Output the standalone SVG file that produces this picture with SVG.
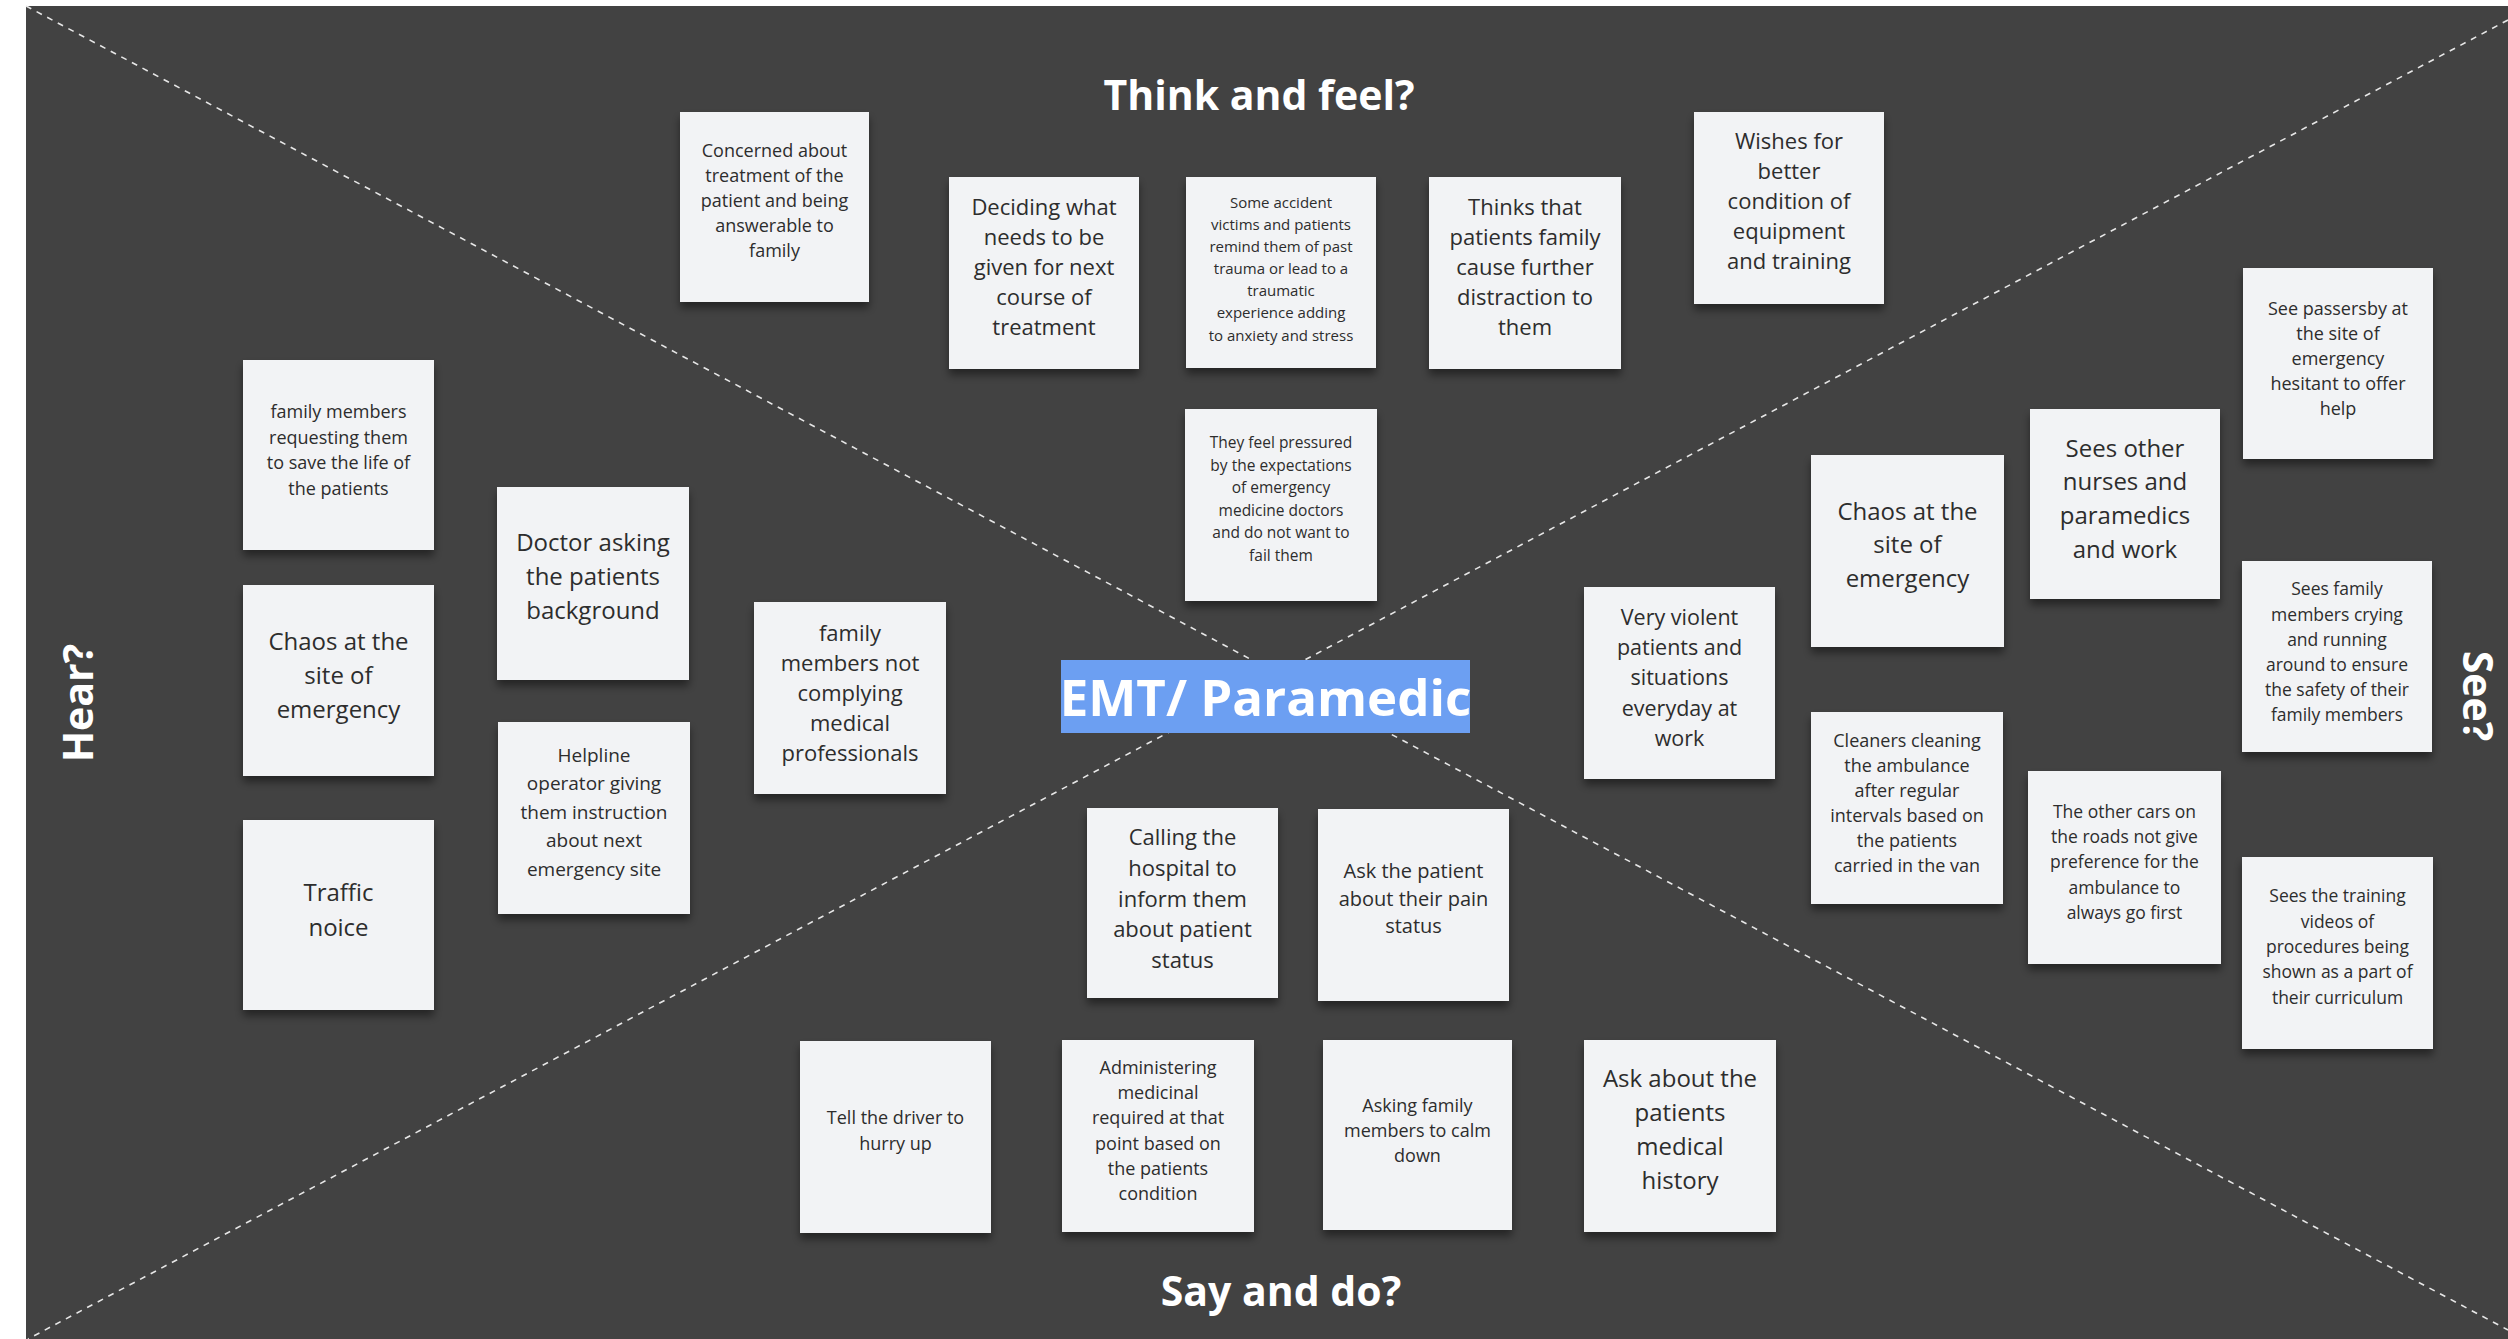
<svg xmlns="http://www.w3.org/2000/svg" width="2508" height="1339" viewBox="0 0 2508 1339">
<style>
.bg{fill:#424242}
.divider{stroke:#e6e6e6;stroke-width:1.6;stroke-dasharray:6 6;fill:none}
.note rect{fill:#f2f3f5;filter:url(#shadow)}
.note text{font-family:"Open Sans","Liberation Sans",sans-serif;fill:#2d2d2d;text-anchor:middle}
.title{font-family:"Open Sans","Liberation Sans",sans-serif;font-weight:700;fill:#ffffff;text-anchor:middle;font-size:41px}
.center rect{fill:#6c9ff2}
.center text{font-family:"Open Sans","Liberation Sans",sans-serif;font-weight:700;fill:#ffffff;text-anchor:middle;font-size:51px}
</style>
<defs>
<filter id="shadow" x="-10%" y="-10%" width="120%" height="130%">
<feDropShadow dx="0" dy="6" stdDeviation="4" flood-color="#000" flood-opacity="0.45"/>
</filter>
</defs>
<rect x="0" y="0" width="2508" height="1339" fill="#ffffff"/>
<rect class="bg" x="26" y="6" width="2482" height="1333"/>

<g id="dividers">
<line class="divider" x1="26" y1="6" x2="2508" y2="1330"/>
<line class="divider" x1="2508" y1="20" x2="28" y2="1339"/>
</g>

<g id="labels">
<text class="title" x="1259" y="110">Think and feel?</text>
<text class="title" x="1281" y="1306">Say and do?</text>
<text class="title" transform="translate(93,703) rotate(-90)">Hear?</text>
<text class="title" transform="translate(2463,696) rotate(90)">See?</text>
</g>

<g id="think1" class="note"><rect x="680" y="112" width="189" height="190"/>
<text font-size="18"><tspan x="774.5" y="157.4">Concerned about</tspan><tspan x="774.5" y="182.4">treatment of the</tspan><tspan x="774.5" y="207.4">patient and being</tspan><tspan x="774.5" y="232.4">answerable to</tspan><tspan x="774.5" y="257.4">family</tspan></text></g>

<g id="think2" class="note"><rect x="949" y="177" width="190" height="192"/>
<text font-size="22"><tspan x="1044" y="214.6">Deciding what</tspan><tspan x="1044" y="244.6">needs to be</tspan><tspan x="1044" y="274.6">given for next</tspan><tspan x="1044" y="304.6">course of</tspan><tspan x="1044" y="334.6">treatment</tspan></text></g>

<g id="think3" class="note"><rect x="1186" y="177" width="190" height="191"/>
<text font-size="15"><tspan x="1281" y="207.9">Some accident</tspan><tspan x="1281" y="230">victims and patients</tspan><tspan x="1281" y="252.1">remind them of past</tspan><tspan x="1281" y="274.2">trauma or lead to a</tspan><tspan x="1281" y="296.3">traumatic</tspan><tspan x="1281" y="318.4">experience adding</tspan><tspan x="1281" y="340.5">to anxiety and stress</tspan></text></g>

<g id="think4" class="note"><rect x="1429" y="177" width="192" height="192"/>
<text font-size="22"><tspan x="1525" y="214.9">Thinks that</tspan><tspan x="1525" y="244.9">patients family</tspan><tspan x="1525" y="274.9">cause further</tspan><tspan x="1525" y="304.9">distraction to</tspan><tspan x="1525" y="334.9">them</tspan></text></g>

<g id="think5" class="note"><rect x="1694" y="112" width="190" height="192"/>
<text font-size="22"><tspan x="1789" y="148.6">Wishes for</tspan><tspan x="1789" y="178.6">better</tspan><tspan x="1789" y="208.6">condition of</tspan><tspan x="1789" y="238.6">equipment</tspan><tspan x="1789" y="268.6">and training</tspan></text></g>

<g id="think6" class="note"><rect x="1185" y="409" width="192" height="192"/>
<text font-size="15.5"><tspan x="1281" y="448.1">They feel pressured</tspan><tspan x="1281" y="470.6">by the expectations</tspan><tspan x="1281" y="493.1">of emergency</tspan><tspan x="1281" y="515.6">medicine doctors</tspan><tspan x="1281" y="538.1">and do not want to</tspan><tspan x="1281" y="560.6">fail them</tspan></text></g>

<g id="hear1" class="note"><rect x="243" y="360" width="191" height="190"/>
<text font-size="18"><tspan x="338.5" y="418.2">family members</tspan><tspan x="338.5" y="443.7">requesting them</tspan><tspan x="338.5" y="469.2">to save the life of</tspan><tspan x="338.5" y="494.7">the patients</tspan></text></g>

<g id="hear2" class="note"><rect x="243" y="585" width="191" height="191"/>
<text font-size="24"><tspan x="338.5" y="649.7">Chaos at the</tspan><tspan x="338.5" y="683.7">site of</tspan><tspan x="338.5" y="717.7">emergency</tspan></text></g>

<g id="hear3" class="note"><rect x="243" y="820" width="191" height="190"/>
<text font-size="24"><tspan x="338.5" y="901.4">Traffic</tspan><tspan x="338.5" y="936.1">noice</tspan></text></g>

<g id="hear4" class="note"><rect x="497" y="487" width="192" height="193"/>
<text font-size="24"><tspan x="593" y="550.8">Doctor asking</tspan><tspan x="593" y="584.8">the patients</tspan><tspan x="593" y="618.8">background</tspan></text></g>

<g id="hear5" class="note"><rect x="498" y="722" width="192" height="192"/>
<text font-size="19"><tspan x="594" y="761.9">Helpline</tspan><tspan x="594" y="790.3">operator giving</tspan><tspan x="594" y="818.7">them instruction</tspan><tspan x="594" y="847.1">about next</tspan><tspan x="594" y="875.5">emergency site</tspan></text></g>

<g id="hear6" class="note"><rect x="754" y="602" width="192" height="192"/>
<text font-size="22"><tspan x="850" y="640.6">family</tspan><tspan x="850" y="670.6">members not</tspan><tspan x="850" y="700.6">complying</tspan><tspan x="850" y="730.6">medical</tspan><tspan x="850" y="760.6">professionals</tspan></text></g>

<g id="see1" class="note"><rect x="1811" y="455" width="193" height="192"/>
<text font-size="24"><tspan x="1907.5" y="519.7">Chaos at the</tspan><tspan x="1907.5" y="553.4">site of</tspan><tspan x="1907.5" y="587.1">emergency</tspan></text></g>

<g id="see2" class="note"><rect x="2030" y="409" width="190" height="190"/>
<text font-size="24"><tspan x="2125" y="456.7">Sees other</tspan><tspan x="2125" y="490.4">nurses and</tspan><tspan x="2125" y="524.1">paramedics</tspan><tspan x="2125" y="557.8">and work</tspan></text></g>

<g id="see3" class="note"><rect x="2243" y="268" width="190" height="191"/>
<text font-size="18"><tspan x="2338" y="315.4">See passersby at</tspan><tspan x="2338" y="340.4">the site of</tspan><tspan x="2338" y="365.4">emergency</tspan><tspan x="2338" y="390.4">hesitant to offer</tspan><tspan x="2338" y="415.4">help</tspan></text></g>

<g id="see4" class="note"><rect x="1584" y="587" width="191" height="192"/>
<text font-size="21.5"><tspan x="1679.5" y="624.6">Very violent</tspan><tspan x="1679.5" y="654.9">patients and</tspan><tspan x="1679.5" y="685.2">situations</tspan><tspan x="1679.5" y="715.5">everyday at</tspan><tspan x="1679.5" y="745.8">work</tspan></text></g>

<g id="see5" class="note"><rect x="2242" y="561" width="190" height="191"/>
<text font-size="17.5"><tspan x="2337" y="595.3">Sees family</tspan><tspan x="2337" y="620.5">members crying</tspan><tspan x="2337" y="645.7">and running</tspan><tspan x="2337" y="670.9">around to ensure</tspan><tspan x="2337" y="696.1">the safety of their</tspan><tspan x="2337" y="721.3">family members</tspan></text></g>

<g id="see6" class="note"><rect x="1811" y="712" width="192" height="192"/>
<text font-size="18"><tspan x="1907" y="746.9">Cleaners cleaning</tspan><tspan x="1907" y="771.9">the ambulance</tspan><tspan x="1907" y="796.9">after regular</tspan><tspan x="1907" y="821.9">intervals based on</tspan><tspan x="1907" y="846.9">the patients</tspan><tspan x="1907" y="871.9">carried in the van</tspan></text></g>

<g id="see7" class="note"><rect x="2028" y="771" width="193" height="193"/>
<text font-size="17.5"><tspan x="2124.5" y="817.9">The other cars on</tspan><tspan x="2124.5" y="843.1">the roads not give</tspan><tspan x="2124.5" y="868.3">preference for the</tspan><tspan x="2124.5" y="893.5">ambulance to</tspan><tspan x="2124.5" y="918.7">always go first</tspan></text></g>

<g id="see8" class="note"><rect x="2242" y="857" width="191" height="192"/>
<text font-size="17.5"><tspan x="2337.5" y="902.2">Sees the training</tspan><tspan x="2337.5" y="927.6">videos of</tspan><tspan x="2337.5" y="953">procedures being</tspan><tspan x="2337.5" y="978.4">shown as a part of</tspan><tspan x="2337.5" y="1003.8">their curriculum</tspan></text></g>

<g id="say1" class="note"><rect x="1087" y="808" width="191" height="190"/>
<text font-size="22"><tspan x="1182.5" y="845.4">Calling the</tspan><tspan x="1182.5" y="876">hospital to</tspan><tspan x="1182.5" y="906.6">inform them</tspan><tspan x="1182.5" y="937.2">about patient</tspan><tspan x="1182.5" y="967.8">status</tspan></text></g>

<g id="say2" class="note"><rect x="1318" y="809" width="191" height="192"/>
<text font-size="20"><tspan x="1413.5" y="878">Ask the patient</tspan><tspan x="1413.5" y="905.6">about their pain</tspan><tspan x="1413.5" y="933.2">status</tspan></text></g>

<g id="say3" class="note"><rect x="800" y="1041" width="191" height="192"/>
<text font-size="18"><tspan x="895.5" y="1124.1">Tell the driver to</tspan><tspan x="895.5" y="1149.8">hurry up</tspan></text></g>

<g id="say4" class="note"><rect x="1062" y="1040" width="192" height="192"/>
<text font-size="18"><tspan x="1158" y="1074.2">Administering</tspan><tspan x="1158" y="1099.3">medicinal</tspan><tspan x="1158" y="1124.4">required at that</tspan><tspan x="1158" y="1149.5">point based on</tspan><tspan x="1158" y="1174.6">the patients</tspan><tspan x="1158" y="1199.7">condition</tspan></text></g>

<g id="say5" class="note"><rect x="1323" y="1040" width="189" height="190"/>
<text font-size="18"><tspan x="1417.5" y="1111.6">Asking family</tspan><tspan x="1417.5" y="1136.6">members to calm</tspan><tspan x="1417.5" y="1161.6">down</tspan></text></g>

<g id="say6" class="note"><rect x="1584" y="1040" width="192" height="192"/>
<text font-size="24"><tspan x="1680" y="1086.7">Ask about the</tspan><tspan x="1680" y="1120.9">patients</tspan><tspan x="1680" y="1155.1">medical</tspan><tspan x="1680" y="1189.3">history</tspan></text></g>

<g id="center" class="center"><rect x="1061" y="660" width="409" height="73"/>
<text x="1265.5" y="716">EMT/ Paramedic</text></g>
</svg>
